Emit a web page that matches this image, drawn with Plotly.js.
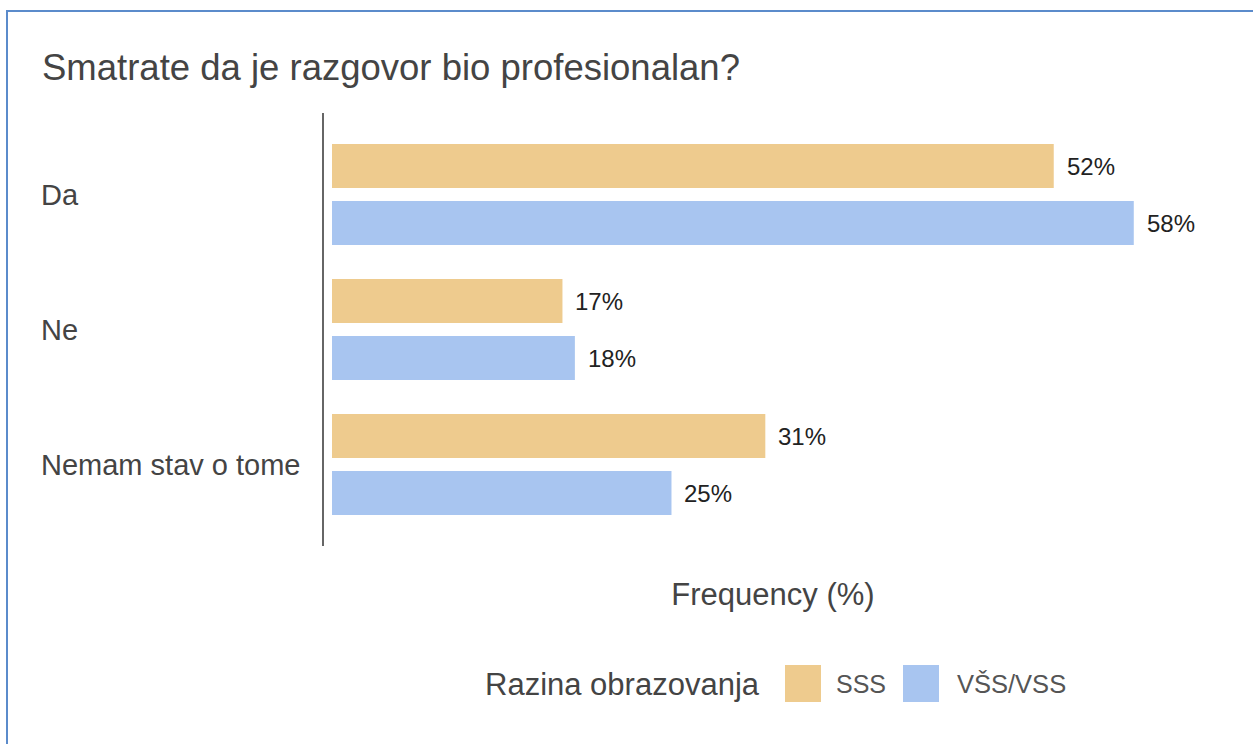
<!DOCTYPE html>
<html>
<head>
<meta charset="utf-8">
<script src="https://cdn.plot.ly/plotly-3.0.1.min.js"></script>
<style>
  html, body { margin: 0; padding: 0; background: #ffffff; overflow: hidden; }
  #frame { position: absolute; left: 6px; top: 10px; width: 1300px; height: 800px;
           border: 2px solid #5b8bcb; pointer-events: none; z-index: 5; }
  #chart { position: absolute; left: 0; top: 0; width: 1253px; height: 744px; }
</style>
</head>
<body>
<div id="chart"></div>
<div id="frame"></div>
<script>
// ---- data ----
const chartTitle = 'Smatrate da je razgovor bio profesionalan?';
const categories = ['Da', 'Ne', 'Nemam stav o tome'];
const seriesNames = ['SSS', 'VŠS/VSS'];
const sssValues = [52.3, 16.7, 31.4];
const vssValues = [58.1, 17.6, 24.6];
const sssLabels = ['52%', '17%', '31%'];
const vssLabels = ['58%', '18%', '25%'];
const xAxisTitle = 'Frequency (%)';
const legendTitle = 'Razina obrazovanja';

// ---- styles ----
const FONT = 'Arial, "Liberation Sans", sans-serif';
const sssColor = '#eecb8e';
const vssColor = '#a8c5f0';

const W = 1253, H = 744;
const M = { l: 323, r: 30, t: 127, b: 212 };
const plotW = W - M.l - M.r, plotH = H - M.t - M.b;
const px = x => (x - M.l) / plotW;
const py = y => (H - M.b - y) / plotH;

const traces = [
  { type: 'bar', orientation: 'h', name: seriesNames[0], y: categories, x: sssValues,
    marker: { color: sssColor }, hoverinfo: 'none' },
  { type: 'bar', orientation: 'h', name: seriesNames[1], y: categories, x: vssValues,
    marker: { color: vssColor }, hoverinfo: 'none' }
];

const annotations = [];
categories.forEach((c, i) => {
  annotations.push({ x: sssValues[i], y: c, xref: 'x', yref: 'y', text: sssLabels[i],
    showarrow: false, xanchor: 'left', yanchor: 'middle', xshift: 11, yshift: 28.5,
    font: { family: FONT, size: 24, color: '#222' } });
  annotations.push({ x: vssValues[i], y: c, xref: 'x', yref: 'y', text: vssLabels[i],
    showarrow: false, xanchor: 'left', yanchor: 'middle', xshift: 11, yshift: -28.5,
    font: { family: FONT, size: 24, color: '#222' } });
  annotations.push({ x: px(39), y: c, xref: 'paper', yref: 'y', text: c,
    showarrow: false, xanchor: 'left', yanchor: 'middle',
    font: { family: FONT, size: 29, color: '#444' } });
});
// legend (manual, large swatches)
annotations.push({ x: px(483), y: py(684), xref: 'paper', yref: 'paper', text: legendTitle,
  showarrow: false, xanchor: 'left', yanchor: 'middle', font: { family: FONT, size: 31, color: '#444' } });
annotations.push({ x: px(834), y: py(684), xref: 'paper', yref: 'paper', text: seriesNames[0],
  showarrow: false, xanchor: 'left', yanchor: 'middle', font: { family: FONT, size: 25, color: '#555' } });
annotations.push({ x: px(955), y: py(684), xref: 'paper', yref: 'paper', text: seriesNames[1],
  showarrow: false, xanchor: 'left', yanchor: 'middle', font: { family: FONT, size: 25.5, color: '#555' } });

const shapes = [
  { type: 'line', xref: 'paper', yref: 'paper', x0: 0, x1: 0, y0: py(546), y1: py(113),
    line: { color: '#666', width: 2 } },
  { type: 'rect', xref: 'paper', yref: 'paper', x0: px(785), x1: px(821), y0: py(702), y1: py(665),
    fillcolor: sssColor, line: { width: 0 } },
  { type: 'rect', xref: 'paper', yref: 'paper', x0: px(903), x1: px(939), y0: py(702), y1: py(665),
    fillcolor: vssColor, line: { width: 0 } }
];

const layout = {
  width: W, height: H,
  paper_bgcolor: '#ffffff', plot_bgcolor: '#ffffff',
  margin: { l: M.l, r: M.r, t: M.t, b: M.b, pad: 0 },
  font: { family: FONT, color: '#444' },
  title: { text: chartTitle, font: { family: FONT, size: 36.5, color: '#444' },
    xref: 'container', yref: 'container', x: 42 / W, xanchor: 'left', y: 1 - 67 / H, yanchor: 'middle' },
  xaxis: { range: [-9 / 13.8, (M.l + plotW - 332) / 13.8], showticklabels: false, showgrid: false,
    zeroline: false, showline: false, ticks: '', automargin: false, fixedrange: true,
    title: { text: xAxisTitle, font: { family: FONT, size: 31, color: '#444' }, standoff: 51 } },
  yaxis: { type: 'category', autorange: 'reversed', showticklabels: false, showgrid: false,
    zeroline: false, showline: false, ticks: '', automargin: false, fixedrange: true },
  barmode: 'group', bargap: 0.156, bargroupgap: 0.228,
  showlegend: false,
  shapes: shapes,
  annotations: annotations
};

Plotly.newPlot('chart', traces, layout, { displayModeBar: false, staticPlot: true });
</script>
</body>
</html>
